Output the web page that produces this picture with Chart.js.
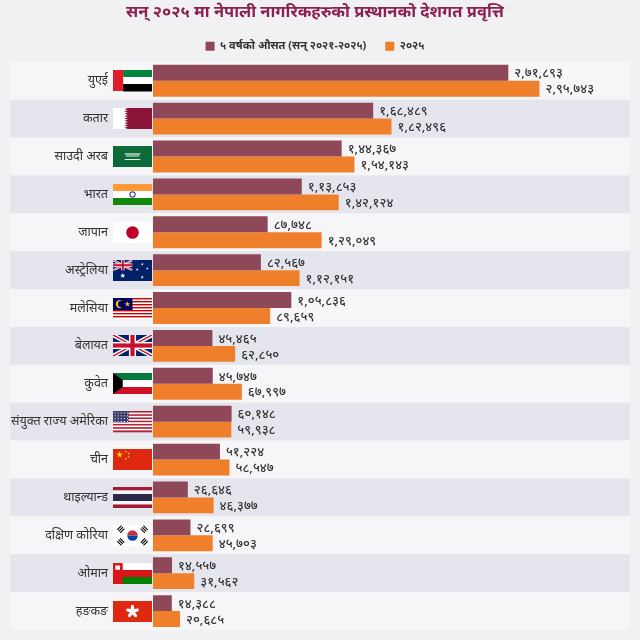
<!DOCTYPE html>
<html><head><meta charset="utf-8">
<script src="https://cdn.jsdelivr.net/npm/chart.js@4.4.1/dist/chart.umd.min.js"></script>
<style>html,body{margin:0;padding:0;background:#f1f1f4;overflow:hidden;}#wrap{position:relative;width:640px;height:640px;}</style>
</head><body><div id="wrap"><canvas id="c"></canvas></div>
<script>
const countries = ['युएई','कतार','साउदी अरब','भारत','जापान','अस्ट्रेलिया','मलेसिया','बेलायत','कुवेत','संयुक्त राज्य अमेरिका','चीन','थाइल्यान्ड','दक्षिण कोरिया','ओमान','हङकङ'];
const flagCodes = ['ae','qa','sa','in','jp','au','my','gb','kw','us','cn','th','kr','om','hk'];
const avg5yr = [271893,168489,144367,113853,87748,82567,105836,45465,45747,60148,51224,26646,28699,14557,14388];
const y2025  = [295743,182496,154143,142124,129049,112151,89659,62850,67997,59938,58547,46377,45703,31562,20685];
const seriesNames = ['५ वर्षको औसत (सन् २०२१-२०२५)','२०२५'];
const titleText = 'सन् २०२५ मा नेपाली नागरिकहरुको प्रस्थानको देशगत प्रवृत्ति';

const FONT = "'Noto Sans', 'Noto Sans Devanagari', sans-serif";
const DEV = '०१२३४५६७८९';
function fmt(n){
  const s = String(n);
  const last3 = s.slice(-3), rest = s.slice(0,-3);
  const out = rest ? rest.replace(/\B(?=(\d{2})+(?!\d))/g, ',') + ',' + last3 : last3;
  return out.replace(/\d/g, d => DEV[d]);
}

function star(ctx, cx, cy, r, color, rot){
  rot = rot || 0;
  ctx.beginPath();
  for (let i=0;i<10;i++){
    const rr = i%2 ? r*0.4 : r;
    const a = -Math.PI/2 + rot + i*Math.PI/5;
    ctx.lineTo(cx + rr*Math.cos(a), cy + rr*Math.sin(a));
  }
  ctx.closePath(); ctx.fillStyle = color; ctx.fill();
}
function rect(ctx,x,y,w,h,c){ctx.fillStyle=c;ctx.fillRect(x,y,w,h);}
function unionJack(ctx,x,y,w,h){
  ctx.save(); ctx.beginPath(); ctx.rect(x,y,w,h); ctx.clip();
  rect(ctx,x,y,w,h,'#012169');
  ctx.lineCap='butt';
  ctx.strokeStyle='#fff'; ctx.lineWidth=h*0.2;
  ctx.beginPath(); ctx.moveTo(x,y); ctx.lineTo(x+w,y+h); ctx.moveTo(x+w,y); ctx.lineTo(x,y+h); ctx.stroke();
  ctx.strokeStyle='#c8102e'; ctx.lineWidth=h*0.07;
  ctx.beginPath(); ctx.moveTo(x,y); ctx.lineTo(x+w,y+h); ctx.moveTo(x+w,y); ctx.lineTo(x,y+h); ctx.stroke();
  rect(ctx,x+w/2-h*0.17,y,h*0.34,h,'#fff'); rect(ctx,x,y+h/2-h*0.17,w,h*0.34,'#fff');
  rect(ctx,x+w/2-h*0.1,y,h*0.2,h,'#c8102e'); rect(ctx,x,y+h/2-h*0.1,w,h*0.2,'#c8102e');
  ctx.restore();
}
function drawFlag(ctx, code, x, y, w, h){
  ctx.save();
  switch(code){
    case 'ae':
      rect(ctx,x+w*0.26,y,w*0.74,h/3,'#00843d'); rect(ctx,x+w*0.26,y+h/3,w*0.74,h/3,'#fff');
      rect(ctx,x+w*0.26,y+2*h/3,w*0.74,h/3+0.5,'#000'); rect(ctx,x,y,w*0.26,h,'#e21c2a'); break;
    case 'qa': {
      rect(ctx,x,y,w,h,'#fff');
      ctx.beginPath(); ctx.moveTo(x+w,y); ctx.lineTo(x+w,y+h);
      const n=9;
      for(let k=0;k<=2*n;k++){ const yy=y+h-k*h/(2*n); ctx.lineTo(x+(k%2? w*0.29 : w*0.38), yy); }
      ctx.closePath(); ctx.fillStyle='#8a1538'; ctx.fill(); break; }
    case 'sa':
      rect(ctx,x,y,w,h,'#0d6b3a');
      ctx.fillStyle='#e8f0e8';
      ctx.fillRect(x+w*0.3,y+h*0.35,w*0.4,1.2); ctx.fillRect(x+w*0.33,y+h*0.45,w*0.34,1); ctx.fillRect(x+w*0.3,y+h*0.62,w*0.4,1);
      break;
    case 'in':
      rect(ctx,x,y,w,h/3,'#ff9933'); rect(ctx,x,y+h/3,w,h/3,'#fff'); rect(ctx,x,y+2*h/3,w,h/3,'#138808');
      ctx.beginPath(); ctx.arc(x+w/2,y+h/2,h*0.13,0,Math.PI*2); ctx.strokeStyle='#000080'; ctx.lineWidth=1; ctx.stroke(); break;
    case 'jp':
      rect(ctx,x,y,w,h,'#fff');
      ctx.beginPath(); ctx.arc(x+w/2,y+h/2,h*0.3,0,Math.PI*2); ctx.fillStyle='#bc002d'; ctx.fill(); break;
    case 'au':
      rect(ctx,x,y,w,h,'#012169'); unionJack(ctx,x,y,w/2,h/2);
      star(ctx,x+w*0.25,y+h*0.75,h*0.13,'#fff');
      star(ctx,x+w*0.75,y+h*0.2,h*0.07,'#fff'); star(ctx,x+w*0.62,y+h*0.45,h*0.07,'#fff');
      star(ctx,x+w*0.88,y+h*0.4,h*0.07,'#fff'); star(ctx,x+w*0.75,y+h*0.82,h*0.08,'#fff'); break;
    case 'my':
      for(let i=0;i<14;i++) rect(ctx,x,y+i*h/14,w,h/14+0.3,i%2?'#fff':'#cc0001');
      rect(ctx,x,y,w*0.5,h*8/14,'#010066');
      ctx.beginPath(); ctx.arc(x+w*0.18,y+h*0.29,h*0.2,0,Math.PI*2); ctx.fillStyle='#fc0'; ctx.fill();
      ctx.beginPath(); ctx.arc(x+w*0.22,y+h*0.29,h*0.17,0,Math.PI*2); ctx.fillStyle='#010066'; ctx.fill();
      star(ctx,x+w*0.37,y+h*0.29,h*0.14,'#fc0'); break;
    case 'gb':
      unionJack(ctx,x,y,w,h); break;
    case 'kw':
      rect(ctx,x,y,w,h/3,'#007a3d'); rect(ctx,x,y+h/3,w,h/3,'#fff'); rect(ctx,x,y+2*h/3,w,h/3,'#ce1126');
      ctx.beginPath(); ctx.moveTo(x,y); ctx.lineTo(x+w*0.25,y+h/3); ctx.lineTo(x+w*0.25,y+2*h/3); ctx.lineTo(x,y+h); ctx.closePath();
      ctx.fillStyle='#000'; ctx.fill(); break;
    case 'us':
      for(let i=0;i<13;i++) rect(ctx,x,y+i*h/13,w,h/13+0.3,i%2?'#fff':'#b22234');
      rect(ctx,x,y,w*0.4,h*7/13,'#3c3b6e');
      ctx.fillStyle='#fff';
      for(let r=0;r<4;r++) for(let c=0;c<5;c++){ ctx.fillRect(x+1.5+c*w*0.4/5, y+1.5+r*h*7/13/4, 1, 1); }
      break;
    case 'cn':
      rect(ctx,x,y,w,h,'#de2910');
      star(ctx,x+w*0.17,y+h*0.27,h*0.16,'#ffde00');
      star(ctx,x+w*0.33,y+h*0.12,h*0.06,'#ffde00'); star(ctx,x+w*0.4,y+h*0.22,h*0.06,'#ffde00');
      star(ctx,x+w*0.4,y+h*0.37,h*0.06,'#ffde00'); star(ctx,x+w*0.33,y+h*0.46,h*0.06,'#ffde00'); break;
    case 'th':
      rect(ctx,x,y,w,h/6,'#a51931'); rect(ctx,x,y+h/6,w,h/6,'#f4f5f8'); rect(ctx,x,y+h/3,w,h/3,'#2d2a4a');
      rect(ctx,x,y+2*h/3,w,h/6,'#f4f5f8'); rect(ctx,x,y+5*h/6,w,h/6,'#a51931'); break;
    case 'kr': {
      rect(ctx,x,y,w,h,'#fff');
      const cx=x+w/2, cy=y+h/2, r=h*0.25;
      ctx.beginPath(); ctx.arc(cx,cy,r,Math.PI,0); ctx.fillStyle='#cd2e3a'; ctx.fill();
      ctx.beginPath(); ctx.arc(cx,cy,r,0,Math.PI); ctx.fillStyle='#0047a0'; ctx.fill();
      ctx.fillStyle='#000';
      [[-1,-1],[1,-1],[-1,1],[1,1]].forEach(([sx,sy])=>{
        ctx.save(); ctx.translate(cx+sx*w*0.3, cy+sy*h*0.3); ctx.rotate(sx*sy>0?-Math.PI/4:Math.PI/4);
        for(let k=0;k<3;k++) ctx.fillRect(-3,-2.5+k*2,6,1.1);
        ctx.restore();
      });
      break; }
    case 'om':
      rect(ctx,x,y,w,h,'#db161b');
      rect(ctx,x+w*0.25,y,w*0.75,h/3,'#fff'); rect(ctx,x+w*0.25,y+2*h/3,w*0.75,h/3,'#008000');
      ctx.fillStyle='#fff'; ctx.fillRect(x+w*0.06,y+h*0.12,w*0.12,h*0.2); break;
    case 'hk': {
      rect(ctx,x,y,w,h,'#de2910');
      const cx=x+w/2, cy=y+h/2;
      ctx.fillStyle='#fff';
      for(let k=0;k<5;k++){
        const a=-Math.PI/2+k*2*Math.PI/5;
        ctx.beginPath(); ctx.ellipse(cx+Math.cos(a)*h*0.16, cy+Math.sin(a)*h*0.16, h*0.16, h*0.08, a, 0, Math.PI*2); ctx.fill();
      }
      break; }
  }
  ctx.restore();
}

const bandsPlugin = {
  id:'bands',
  beforeDraw(chart){
    const {ctx, chartArea:a, scales:{y}} = chart;
    ctx.save();
    ctx.fillStyle='#f1f1f4'; ctx.fillRect(0,0,chart.width,chart.height);
    const rowH = (a.bottom - a.top)/countries.length;
    countries.forEach((c,i)=>{
      const cy = y.getPixelForValue(i);
      ctx.fillStyle = i%2 ? '#e5e5ee' : '#f6f6f8';
      ctx.fillRect(10, cy-rowH/2, a.right-10, rowH);
    });
    ctx.restore();
  }
};
const flagsPlugin = {
  id:'flags',
  afterDraw(chart){
    const {ctx, scales:{y}} = chart;
    flagCodes.forEach((code,i)=>{
      const cy = y.getPixelForValue(i);
      drawFlag(ctx, code, 113, Math.round(cy-10.5), 39, 21);
    });
  }
};
const labelsPlugin = {
  id:'valueLabels',
  afterDatasetsDraw(chart){
    const {ctx} = chart;
    ctx.save();
    ctx.font = "500 13px " + FONT;
    ctx.fillStyle = '#333';
    ctx.textBaseline = 'middle';
    chart.data.datasets.forEach((ds,di)=>{
      chart.getDatasetMeta(di).data.forEach((bar,i)=>{
        ctx.fillText(fmt(ds.data[i]), bar.x + 6, bar.y + 1);
      });
    });
    ctx.restore();
  }
};

new Chart(document.getElementById('c'), {
  type:'bar',
  data:{
    labels: countries,
    datasets:[
      {label: seriesNames[0], data: avg5yr, backgroundColor:'#8f4858', barPercentage:1, categoryPercentage:0.84},
      {label: seriesNames[1], data: y2025, backgroundColor:'#f07f2b', barPercentage:1, categoryPercentage:0.84}
    ]
  },
  options:{
    indexAxis:'y',
    responsive:true,
    maintainAspectRatio:false,
    animation:false,
    layout:{padding:{left:0,right:10,top:0,bottom:10}},
    scales:{
      x:{display:false, min:0, max:365000},
      y:{
        grid:{display:false, drawTicks:true, tickLength:43},
        border:{display:false},
        ticks:{padding:2, color:'#333', font:{family:FONT, size:12.5}},
        afterFit(s){ s.width = 153; s.paddingTop = 0; s.paddingBottom = 0; }
      }
    },
    plugins:{
      title:{display:true, text:titleText, color:'#8a2150', font:{family:FONT, size:16.5, weight:'bold'}, padding:{top:2,bottom:0}},
      legend:{
        labels:{boxWidth:9, boxHeight:9, padding:19, color:'#333', font:{family:FONT, size:11, weight:'bold'}}
      },
      tooltip:{enabled:false}
    }
  },
  plugins:[bandsPlugin, labelsPlugin, flagsPlugin]
});
</script></body></html>
